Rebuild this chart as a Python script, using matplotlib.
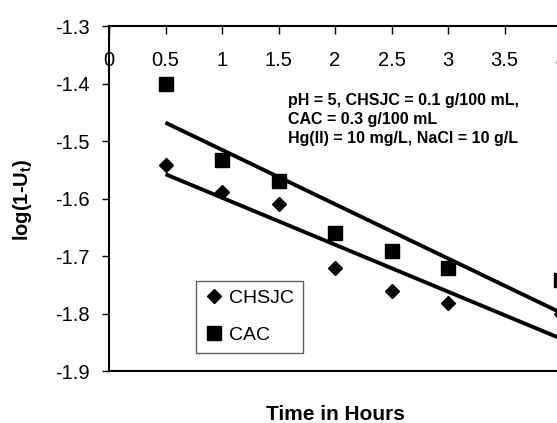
import numpy as np
import matplotlib
matplotlib.use("Agg")
import matplotlib.pyplot as plt

# ---- data ----
hours = [0.5, 1.0, 1.5, 2.0, 2.5, 3.0, 4.0]
chsjc = [-1.542, -1.589, -1.610, -1.720, -1.760, -1.782, -1.800]
cac = [-1.400, -1.533, -1.570, -1.660, -1.691, -1.720, -1.742]
xticks = [0, 0.5, 1, 1.5, 2, 2.5, 3, 3.5, 4]
xtick_labels = ["0", "0.5", "1", "1.5", "2", "2.5", "3", "3.5", "4"]
yticks = [-1.9, -1.8, -1.7, -1.6, -1.5, -1.4, -1.3]
ytick_labels = ["-1.9", "-1.8", "-1.7", "-1.6", "-1.5", "-1.4", "-1.3"]
note_lines = ["pH = 5, CHSJC = 0.1 g/100 mL,",
              "CAC = 0.3 g/100 mL",
              "Hg(II) = 10 mg/L, NaCl = 10 g/L"]

plt.rcParams['font.family'] = ['Liberation Sans', 'DejaVu Sans']
plt.rcParams['mathtext.default'] = 'regular'

W, H = 557, 423
fig = plt.figure(figsize=(W / 100, H / 100), dpi=100)
L, R, T, B = 109, 561, 26, 371
ax = fig.add_axes([L / W, 1 - B / H, (R - L) / W, (B - T) / H])

# trend lines (least-squares fits over data range)
xs = np.array(hours)
for ys in (chsjc, cac):
    k, b = np.polyfit(xs, np.array(ys), 1)
    xx = np.array([xs.min(), xs.max()])
    ax.plot(xx, k * xx + b, color='black', lw=2.8, solid_capstyle='butt', zorder=2)

ax.plot(hours, chsjc, linestyle='none', marker='D', markersize=7.6,
        color='black', label='CHSJC', zorder=3)
ax.plot(hours, cac, linestyle='none', marker='s', markersize=10.5,
        color='black', label='CAC', zorder=3)

ax.set_xlim(0, 4)
ax.set_ylim(-1.9, -1.3)

ax.set_xticks(xticks)
ax.set_xticklabels(xtick_labels)
ax.set_yticks(yticks)
ax.set_yticklabels(ytick_labels)

ax.xaxis.set_ticks_position('top')
ax.tick_params(axis='x', top=True, bottom=False, labeltop=True, labelbottom=False,
               direction='in', length=5.5, width=1.0, pad=-32, labelsize=14.5)
ax.tick_params(axis='y', direction='out', length=5, width=1.0, pad=9, labelsize=14.5)

for side in ('left', 'top', 'bottom'):
    ax.spines[side].set_linewidth(1.5)
ax.spines['right'].set_visible(False)

leg = ax.legend(loc='lower left', bbox_to_anchor=((196 - L) / (R - L), (B - 353) / (B - T)),
                borderaxespad=0, fontsize=14, frameon=True, fancybox=False,
                edgecolor='#333333', handlelength=0.95, handletextpad=0.3,
                labelspacing=1.0, borderpad=0.45)
leg.get_frame().set_linewidth(1.0)

# annotation
for line, yb in zip(note_lines, [105, 124, 143]):
    fig.text(288 / W, 1 - yb / H, line, fontsize=11.5, fontweight='bold',
             ha='left', va='baseline')

fig.text((L + R) / 2 / W, 1 - 420 / H, "Time in Hours", fontsize=15,
         fontweight='bold', ha='center', va='baseline')
fig.text(22 / W, 1 - 200 / H, "log(1-U$_t$)", fontsize=14.5, fontweight='bold',
         rotation=90, ha='center', va='center')

fig.savefig("out.png", dpi=100)
